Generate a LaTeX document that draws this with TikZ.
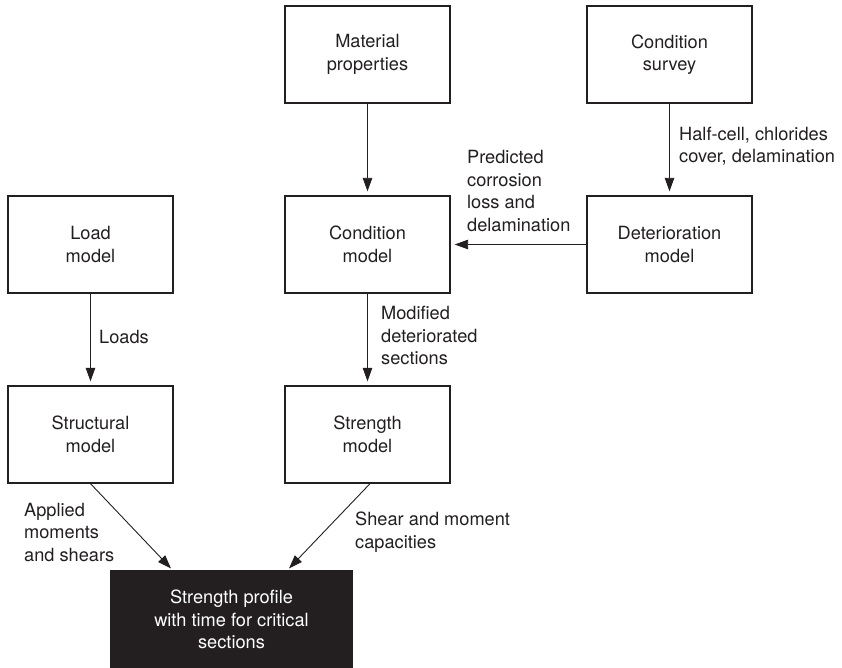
\documentclass[tikz,border=0pt]{standalone}
\usepackage{fontspec}
\setmainfont{TeX Gyre Heros}
\usetikzlibrary{arrows.meta}
\definecolor{ink}{RGB}{35,31,32}
\begin{document}
\begin{tikzpicture}[x=1pt,y=-1pt,
  every node/.style={text=ink, font=\fontsize{18.2}{22.5}\selectfont},
  stage/.style={draw=ink, line width=1.3pt, minimum width=165pt, minimum height=97pt,
                inner sep=0pt, align=center},
  result/.style={stage, fill=ink, text=white},
  lbl/.style={inner sep=0pt, align=left, anchor=west},
  flow/.style={draw=ink, line width=0.9pt, shorten >=4pt,
               -{Triangle[length=13.5pt,width=9.5pt]}}]
  \useasboundingbox (0,0) rectangle (842,668);

  % process boxes
  \node[stage] (mat)    at (367.5, 54.5)  {Material\\properties};
  \node[stage] (survey) at (669.5, 54.5)  {Condition\\survey};
  \node[stage] (load)   at (90.5, 244.5)  {Load\\model};
  \node[stage] (cond)   at (367.5, 244.5) {Condition\\model};
  \node[stage] (det)    at (669.5, 244.5) {Deterioration\\model};
  \node[stage] (struct) at (90.5, 434.5)  {Structural\\model};
  \node[stage] (str)    at (367.5, 434.5) {Strength\\model};
  \node[result, minimum width=241pt, minimum height=98pt] (prof) at (231.5, 619.5)
       {Strength profile\\with time for critical\\sections};

  % connectors
  \draw[flow] (mat) -- (cond);
  \draw[flow] (survey) -- (det);
  \draw[flow] (det) -- (cond);
  \draw[flow] (load) -- (struct);
  \draw[flow] (cond) -- (str);
  \draw[flow, shorten >=2pt] (struct.south) -- ([xshift=62pt]prof.north west);
  \draw[flow, shorten >=2pt] ([xshift=2.5pt]str.south) -- ([xshift=-65pt]prof.north east);

  % connector labels
  \node[lbl] (lhalf) at (679, 146)   {Half-cell, chlorides\\cover, delamination};
  \node[lbl] (lpred) at (467, 191)   {Predicted\\corrosion\\loss and\\delamination};
  \node[lbl] (lmod)  at (381, 335.5) {Modified\\deteriorated\\sections};
  \node[lbl] (lload) at (99, 337)    {Loads};
  \node[lbl] (lapp)  at (24, 532)    {Applied\\moments\\and shears};
  \node[lbl] (lcap)  at (355, 532)   {Shear and moment\\capacities};
\end{tikzpicture}
\end{document}
